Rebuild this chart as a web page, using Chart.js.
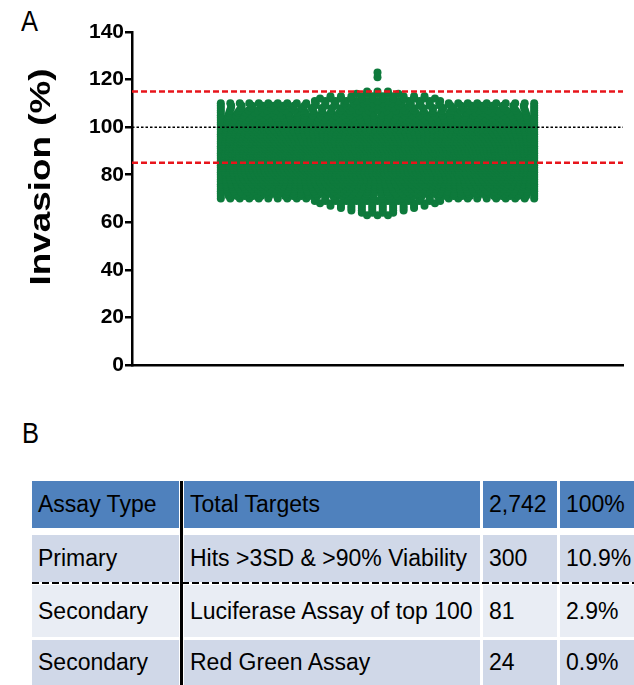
<!DOCTYPE html>
<html><head><meta charset="utf-8">
<script src="https://cdn.jsdelivr.net/npm/chart.js@4"></script>
<style>
body{margin:0;background:#fff;width:634px;height:685px;overflow:hidden;position:relative;font-family:"Liberation Sans",Arial,sans-serif;}
#wrap{position:absolute;left:0;top:0;width:634px;height:380px;}
.lbl{position:absolute;font-size:29px;color:#000;line-height:1;transform:scaleX(0.88);transform-origin:0 0;}
.cell{position:absolute;font-size:23px;color:#000;white-space:nowrap;line-height:1;display:flex;align-items:center;box-sizing:border-box;padding-left:6px;overflow:hidden;}
</style></head><body>
<div class="lbl" style="left:21px;top:7px">A</div>
<div id="wrap"><canvas id="c" width="634" height="380"></canvas></div>
<div class="lbl" style="left:22px;top:419px">B</div>
<div id="tbl"></div>
<script>
// ---- Panel A data: histogram of invasion values (bin centre, number of targets) ----
const binCenters = [63,64,65,66,67,68,69,70,71,72,73,74,75,76,77,78,79,80,81,82,83,84,85,86,87,88,89,90,91,92,93,94,95,96,97,98,99,100,101,102,103,104,105,106,107,108,109,110,111,112,113,114,115,121,123];
const binCounts  = [3,4,6,8,10,12,13,34,40,44,48,52,56,60,64,68,72,75,78,80,82,84,85,88,89,89,89,87,86,85,83,81,78,75,72,69,66,62,58,54,50,46,42,38,35,32,31,34,13,12,10,5,3,1,1];
const cutoffLines = [115, 85];      // red dashed thresholds
const meanLine = 100;               // black dotted line
const yTicks = [0,20,40,60,80,100,120,140];
const yTitle = 'Invasion (%)';

// ---- Panel B table ----
const tableAssay = ['Assay Type','Primary','Secondary','Secondary'];
const tableDesc  = ['Total Targets','Hits >3SD & >90% Viability','Luciferase Assay of top 100','Red Green Assay'];
const tableCount = ['2,742','300','81','24'];
const tablePct   = ['100%','10.9%','2.9%','0.9%'];

// ---- beeswarm layout: rows centred, compressed to a maximum width ----
const MAXCOL = 31;
const pts = [];
binCenters.forEach((v, bi) => {
  const n = binCounts[bi];
  if (n <= MAXCOL) {
    for (let i = 0; i < n; i++) pts.push({x: i - (n - 1) / 2, y: v});
  } else {
    const step = (MAXCOL - 1) / (n - 1);
    for (let i = 0; i < n; i++) pts.push({x: -(MAXCOL - 1) / 2 + i * step, y: v});
  }
});

const XR = 23.5;
const lineData = y => [{x: -XR, y}, {x: XR, y}];

const yTitlePlugin = {
  id: 'ytitle',
  afterDraw(chart) {
    const ctx = chart.ctx;
    ctx.save();
    ctx.translate(42, 177);
    ctx.rotate(-Math.PI / 2);
    ctx.scale(1.27, 1);
    ctx.font = 'bold 29px "Liberation Sans", Arial, sans-serif';
    ctx.fillStyle = '#000';
    ctx.textAlign = 'center';
    ctx.textBaseline = 'middle';
    ctx.fillText(yTitle, 0, 0);
    ctx.restore();
  }
};

new Chart(document.getElementById('c'), {
  type: 'scatter',
  data: {
    datasets: [
      {type: 'line', data: lineData(cutoffLines[0]), borderColor: '#e8141b', borderWidth: 2.5, borderDash: [6, 3], pointRadius: 0, order: 0},
      {type: 'line', data: lineData(cutoffLines[1]), borderColor: '#e8141b', borderWidth: 2.5, borderDash: [6, 3], pointRadius: 0, order: 0},
      {type: 'line', data: lineData(meanLine), borderColor: '#000', borderWidth: 1.5, borderDash: [2.5, 2], pointRadius: 0, order: 0},
      {data: pts, backgroundColor: '#0e7a3c', borderWidth: 0, pointRadius: 4, pointHoverRadius: 4, order: 1}
    ]
  },
  options: {
    responsive: false,
    animation: false,
    events: [],
    devicePixelRatio: 1,
    layout: {padding: {left: 0, top: 32, right: 11, bottom: 15}},
    plugins: {legend: {display: false}, tooltip: {enabled: false}},
    scales: {
      x: {
        type: 'linear', min: -XR, max: XR,
        ticks: {display: false},
        grid: {display: false, drawTicks: false},
        border: {display: true, color: '#000', width: 2.5},
        afterFit(s) { s.height = 0; }
      },
      y: {
        min: 0, max: 140,
        afterBuildTicks(s) { s.ticks = yTicks.map(v => ({value: v})); },
        ticks: {color: '#000', padding: 1, font: {family: '"Liberation Sans", Arial, sans-serif', size: 21, weight: 'bold'}},
        grid: {drawOnChartArea: false, drawTicks: true, tickLength: 7, color: '#000', lineWidth: 2.5},
        border: {display: true, color: '#000', width: 2.5},
        afterFit(s) { s.width = 132; }
      }
    }
  },
  plugins: [yTitlePlugin]
});

// ---- build table ----
const rowTops = [481, 535, 585, 640];
const rowHeights = [47, 47, 52, 45];
const rowColors = ['#4f81bd', '#d0d8e8', '#e9edf4', '#d0d8e8'];
const colLefts = [32, 184, 483, 560];
const colWidths = [147, 296, 74, 74];
const tbl = document.getElementById('tbl');
const cols = [tableAssay, tableDesc, tableCount, tablePct];
for (let r = 0; r < 4; r++) {
  for (let c = 0; c < 4; c++) {
    const d = document.createElement('div');
    d.className = 'cell';
    d.style.left = colLefts[c] + 'px';
    d.style.top = rowTops[r] + 'px';
    d.style.width = colWidths[c] + 'px';
    d.style.height = rowHeights[r] + 'px';
    d.style.background = rowColors[r];
    d.textContent = cols[c][r];
    tbl.appendChild(d);
  }
}
const vline = document.createElement('div');
vline.style.cssText = 'position:absolute;left:179.5px;top:481px;width:3px;height:204px;background:#000;';
tbl.appendChild(vline);
const svgNS = 'http://www.w3.org/2000/svg';
const svg = document.createElementNS(svgNS, 'svg');
svg.setAttribute('width', '634'); svg.setAttribute('height', '6');
svg.style.cssText = 'position:absolute;left:0;top:580px;';
const ln = document.createElementNS(svgNS, 'line');
ln.setAttribute('x1', '32'); ln.setAttribute('x2', '634'); ln.setAttribute('y1', '3'); ln.setAttribute('y2', '3');
ln.setAttribute('stroke', '#000'); ln.setAttribute('stroke-width', '2.2'); ln.setAttribute('stroke-dasharray', '7,3');
svg.appendChild(ln);
tbl.appendChild(svg);
</script>
</body></html>
